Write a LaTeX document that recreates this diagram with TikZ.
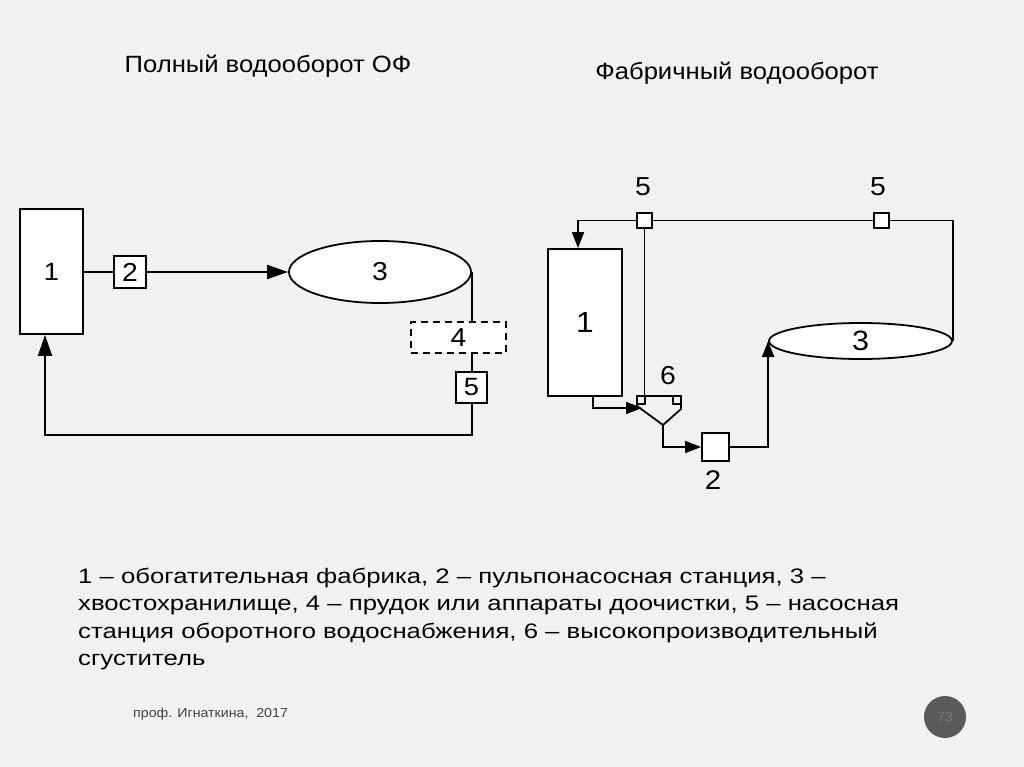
\documentclass[tikz,border=0pt]{standalone}
\usepackage{fontspec}
\setmainfont{Liberation Sans}[FakeStretch=1.09]
\newfontfamily\legfont{Liberation Sans}[FakeStretch=1.225]
\usetikzlibrary{arrows.meta,shapes.geometric,calc}
\definecolor{bg}{HTML}{F1F1F1}
\definecolor{footgray}{HTML}{404040}
\definecolor{circgray}{HTML}{5A5A5A}
\definecolor{numgray}{HTML}{7A7A7A}
\begin{document}
\begin{tikzpicture}[x=1pt,y=-1pt,
  line/.style={line width=1.8pt, line join=miter},
  arr/.style={line, -{Triangle[length=21pt,width=14pt]}},
  arrs/.style={line, -{Triangle[length=16pt,width=12pt]}},
  box/.style={draw, line width=1.8pt, fill=white, inner sep=0pt, font=\fontsize{26}{28}\selectfont},
  ell/.style={box, ellipse},
  lbl/.style={inner sep=0pt, font=\fontsize{26}{28}\selectfont},
  title/.style={inner sep=0pt, font=\fontsize{23.5}{26}\selectfont},
]
\fill[bg] (0,0) rectangle (1024,767);
\useasboundingbox (0,0) rectangle (1024,767);

% titles
\node[title] (t1) at (268,66) {Полный водооборот ОФ};
\node[title] (t2) at (737,73) {Фабричный водооборот};

% ---------- left diagram ----------
\node[box, minimum width=63, minimum height=125, font=\fontsize{25}{27}\selectfont] (L1) at (51.5,271.5) {1};
\node[box, minimum width=32, minimum height=32] (L2) at (130,272) {2};
\node[ell, minimum width=182, minimum height=62] (L3) at (380,272) {3};
\node[box, dashed, dash pattern=on 7pt off 5pt, minimum width=95, minimum height=31] (L4) at (458.5,337.5) {4};
\node[box, minimum width=31, minimum height=31, font=\fontsize{25}{27}\selectfont] (L5) at (471.5,387.5) {5};
\coordinate (Lret) at (45,435);

\draw[line] (L1.east |- L2.west) -- (L2.west);
\draw[arr] (L2.east) -- (L3.west);
\draw[line] (L3.east) -- (L3.east |- L4.north);
\draw[line] (L3.east |- L4.south) -- (L3.east |- L5.north);
\draw[arr] (L3.east |- L5.south) |- (Lret) -- (Lret |- L1.south);

% ---------- right diagram ----------
\node[box, minimum width=74, minimum height=147, font=\fontsize{29}{31}\selectfont] (R1) at (585,322.5) {1};
\node[box, minimum width=15, minimum height=15] (R5a) at (644.5,220.5) {};
\node[box, minimum width=15, minimum height=15] (R5b) at (881.5,220.5) {};
\node[lbl] (R5al) at (643,187) {5};
\node[lbl] (R5bl) at (878,187) {5};
\node[ell, minimum width=183, minimum height=36, font=\fontsize{28}{30}\selectfont] (R3) at (860.5,341) {3};
\node[box, minimum width=27, minimum height=28] (R2) at (715.5,447) {};
\node[lbl, font=\fontsize{27}{29}\selectfont] (R2l) at (713,480) {2};
\node[lbl] (R6l) at (668,376) {6};

% thickener 6
\coordinate (T1) at (637,396);
\coordinate (T2) at (681,396);
\coordinate (T3) at (681,409);
\coordinate (T4) at (663,425);
\coordinate (T5) at (637,406);
\draw[line] (T5) -- (T1) -- (T2) -- (T3) -- (T4) -- cycle;
\draw[line, line width=1.4pt] (T1) rectangle (645,404);
\draw[line, line width=1.4pt] (673,396) rectangle (681,404);
\coordinate (Tin) at (642,408);

\draw[arrs] (R5a.west) -| ([xshift=-7pt]R1.north);
\draw[line] (R5a.east) -- (R5b.west);
\draw[line] (R5b.east) -| (R3.east);
\draw[line] (R5a.south) -- (R5a.south |- T1);
\draw[arrs] ([xshift=8pt]R1.south) |- (Tin);
\draw[arrs] (T4) |- (R2.west);
\draw[arrs] (R2.east) -| (R3.west);

% legend
\node[anchor=north west, inner sep=0pt, align=left, font=\legfont\fontsize{21}{27.2}\selectfont] (leg) at (78,568)
{1 – обогатительная фабрика, 2 – пульпонасосная станция, 3 –\\
хвостохранилище, 4 – прудок или аппараты доочистки, 5 – насосная\\
станция оборотного водоснабжения, 6 – высокопроизводительный\\
сгуститель};

% footer
\node[anchor=west, inner sep=0pt, text=footgray, font=\fontsize{13}{15}\selectfont] (foot) at (133,714) {проф. Игнаткина,\ \ 2017};
\node[circle, fill=circgray, minimum size=42, inner sep=0pt, text=numgray, font=\fontsize{13}{15}\selectfont] (pg) at (945,717) {73};
\end{tikzpicture}
\end{document}
